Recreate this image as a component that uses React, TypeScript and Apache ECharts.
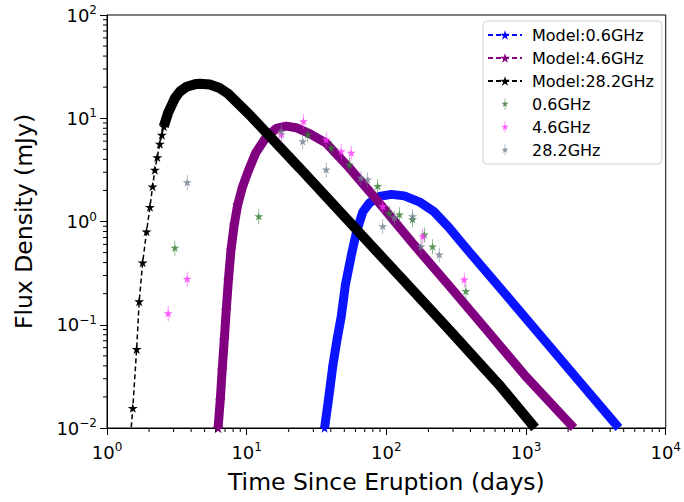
import React, { useEffect, useRef } from "react";
import * as echarts from "echarts";

// ---------- data ----------
// Model 0.6 GHz (blue)
const blueT = [36.1, 38.5, 41.3, 44.3, 47.5, 50.9, 56.2, 61.1, 67.8, 75.6, 89.1, 108.6, 134.5, 172, 220, 282, 332, 392, 642, 1239, 2390, 4620];
const blueF = [0.01, 0.0187, 0.0394, 0.0714, 0.12, 0.243, 0.475, 0.794, 1.24, 1.51, 1.75, 1.83, 1.77, 1.55, 1.24, 0.867, 0.664, 0.508, 0.233, 0.0817, 0.0286, 0.01];

// Model 4.6 GHz (purple)
const purpleT = [6.24, 6.47, 6.68, 6.91, 7.14, 7.4, 7.72, 8.14, 8.62, 9.29, 10.2, 11.6, 13.8, 16.3, 19.2, 22.6, 28.2, 37.1, 54.4, 89.1, 154, 282, 544, 995, 2200];
const purpleF = [0.01, 0.0187, 0.0366, 0.0714, 0.139, 0.272, 0.531, 0.927, 1.45, 2.12, 3.02, 4.61, 6.59, 7.96, 8.4, 8.1, 7.1, 5.73, 3.3, 1.51, 0.617, 0.238, 0.0835, 0.0316, 0.01];

// Model 28.2 GHz (black) – sparse rising stars
const blackRiseT = [1.43, 1.53, 1.63, 1.7, 1.8, 1.92, 2.03, 2.12, 2.2, 2.29, 2.39, 2.47, 2.55, 2.64, 2.74];
const blackRiseF = [0.005, 0.0156, 0.058, 0.168, 0.4, 0.8, 1.38, 2.18, 3.16, 4.19, 5.64, 6.89, 8.3, 9.8, 11.3];
// dense part
const blackT = [2.55, 2.74, 3.06, 3.32, 3.71, 4.37, 4.62, 5.44, 6.41, 7.35, 10.5, 23.9, 54.4, 124, 282, 642, 1160];
const blackF = [8.3, 11.3, 15.6, 18.1, 20.2, 21.5, 21.6, 21.2, 19.6, 17.3, 10.8, 3.3, 0.99, 0.297, 0.0893, 0.0262, 0.01];

// Observations
const obs06T = [3.06, 12.2, 27.4, 40.3, 54.4, 86.7, 105, 124, 154, 187, 214, 371];
const obs06F = [0.55, 1.11, 6.89, 5.13, 3.53, 2.18, 1.2, 1.16, 1.04, 0.741, 0.568, 0.21];
const obs46T = [2.74, 3.75, 17.7, 25.5, 37.1, 47.5, 56, 94.2, 182, 361];
const obs46F = [0.128, 0.276, 6.9, 9.27, 6.17, 4.75, 4.58, 1.39, 0.714, 0.272];
const obs282T = [3.75, 17.7, 25.2, 37.1, 65.9, 73.5, 94.2, 114, 154, 177, 239];
const obs282F = [2.38, 7.41, 5.93, 3.16, 2.62, 2.53, 0.893, 1.08, 1.11, 0.571, 0.475];

// axes
const X_MIN = 1;
const X_MAX = 10000;
const Y_MIN = 0.01;
const Y_MAX = 100;
const MINOR_MULT = [2, 3, 4, 5, 6, 7, 8, 9];
const X_DECADES = [1, 10, 100, 1000];
const Y_DECADES = [0.01, 0.1, 1, 10];

const seriesNames = ["Model:0.6GHz", "Model:4.6GHz", "Model:28.2GHz", "0.6GHz", "4.6GHz", "28.2GHz"];

const zip = (a: number[], b: number[]) => a.map((v, i) => [v, b[i]]);

function starPath(withBar: boolean): string {
  const pts: string[] = [];
  for (let k = 0; k < 10; k++) {
    const a = ((-90 + 36 * k) * Math.PI) / 180;
    const r = k % 2 === 0 ? 1 : 0.382;
    pts.push((r * Math.cos(a)).toFixed(3) + " " + (r * Math.sin(a)).toFixed(3));
  }
  let d = "M" + pts.join(" L") + " Z";
  if (withBar) d += " M-0.07 -1.6 L0.07 -1.6 L0.07 1.6 L-0.07 1.6 Z";
  return "path://" + d;
}
const STAR = starPath(false);
const STAR_BAR = starPath(true);

const FONT = "DejaVu Sans";

const supFormatter = (v: number) => {
  const e = Math.round(Math.log10(v));
  const s = e < 0 ? "\u2212" + -e : String(e);
  return "{b|10}{s|" + s + "}";
};

export default function App() {
  const ref = useRef<HTMLDivElement>(null);
  useEffect(() => {
    document.body.style.margin = "0";
    if (!ref.current) return;
    const chart = echarts.init(ref.current, undefined, { renderer: "svg" });

    const band = (data: number[][], color: string, z: number, w: number) => ({
      type: "line",
      data,
      symbol: "none",
      showSymbol: false,
      lineStyle: { color, width: w, type: "solid", cap: "butt" },
      itemStyle: { color },
      z,
      silent: true,
    });
    const model = (name: string, data: number[][], color: string, z: number, size: number) => ({
      type: "line",
      name,
      data,
      symbol: STAR,
      symbolSize: [size, size * 0.95],
      showSymbol: true,
      lineStyle: { color, width: 1.5, type: [5, 3] },
      itemStyle: { color },
      z,
      silent: true,
    });
    const obs = (name: string, data: number[][], color: string) => ({
      type: "scatter",
      name,
      data,
      symbol: STAR_BAR,
      symbolSize: [9, 15],
      itemStyle: { color, opacity: 0.8 },
      z: 10,
      silent: true,
    });

    const xMinor = X_DECADES.flatMap((d) => MINOR_MULT.map((m) => [d * m, Y_MIN]));
    const yMinor = Y_DECADES.flatMap((d) => MINOR_MULT.map((m) => [X_MIN, d * m]));

    const tickSeries = (data: number[][], horizontal: boolean) => ({
      type: "custom",
      data,
      silent: true,
      clip: false,
      z: 20,
      renderItem: (_p: any, api: any) => {
        const p = api.coord([api.value(0), api.value(1)]);
        return {
          type: "line",
          shape: horizontal
            ? { x1: p[0], y1: p[1], x2: p[0], y2: p[1] + 4 }
            : { x1: p[0], y1: p[1], x2: p[0] - 4, y2: p[1] },
          style: { stroke: "#000", lineWidth: 1 },
        };
      },
    });

    const labelRich = {
      b: { fontSize: 18, fontFamily: FONT, color: "#000", lineHeight: 22 },
      s: { fontSize: 12, fontFamily: FONT, color: "#000", verticalAlign: "top", lineHeight: 14 },
    };

    chart.setOption({
      animation: false,
      backgroundColor: "#fff",
      grid: { left: 107, top: 15, right: 17, bottom: 74, show: true, borderColor: "#000", borderWidth: 1 },
      legend: {
        data: seriesNames,
        orient: "vertical",
        left: 483,
        top: 21,
        itemWidth: 34,
        itemHeight: 12,
        itemGap: 7,
        padding: [6, 8, 6, 4],
        borderColor: "#d0d0d0",
        borderWidth: 1,
        borderRadius: 4,
        backgroundColor: "rgba(255,255,255,0.85)",
        textStyle: { fontSize: 16, fontFamily: FONT, color: "#000", padding: [0, 0, 0, 5] },
      },
      xAxis: {
        type: "log",
        logBase: 10,
        min: X_MIN,
        max: X_MAX,
        name: "Time Since Eruption (days)",
        nameLocation: "middle",
        nameGap: 42,
        nameTextStyle: { fontSize: 23.5, fontFamily: FONT, color: "#000" },
        axisLine: { lineStyle: { color: "#000", width: 1 } },
        axisTick: { length: 7, lineStyle: { color: "#000" } },
        splitLine: { show: false },
        axisLabel: { formatter: supFormatter, rich: labelRich, margin: 13 },
      },
      yAxis: {
        type: "log",
        logBase: 10,
        min: Y_MIN,
        max: Y_MAX,
        name: "Flux Density (mJy)",
        nameLocation: "middle",
        nameGap: 71,
        nameTextStyle: { fontSize: 23.5, fontFamily: FONT, color: "#000" },
        axisLine: { show: true, lineStyle: { color: "#000", width: 1 } },
        axisTick: { show: true, length: 7, lineStyle: { color: "#000" } },
        splitLine: { show: false },
        axisLabel: { formatter: supFormatter, rich: labelRich, margin: 10 },
      },
      series: [
        model("Model:0.6GHz", zip(blueT, blueF).slice(0, 3), "#0000ff", 2, 10),
        band(zip(blueT, blueF), "#0a14ff", 3, 9),
        model("Model:4.6GHz", zip(purpleT, purpleF).slice(0, 9), "#800080", 4, 11),
        band(zip(purpleT, purpleF), "#800080", 5, 9),
        model("Model:28.2GHz", zip(blackRiseT, blackRiseF), "#000000", 6, 10),
        band(zip(blackT, blackF), "#000000", 7, 10),
        obs("0.6GHz", zip(obs06T, obs06F), "#2e7d2e"),
        obs("4.6GHz", zip(obs46T, obs46F), "#ff33ff"),
        obs("28.2GHz", zip(obs282T, obs282F), "#708090"),
        tickSeries(xMinor, true),
        tickSeries(yMinor, false),
      ],
    });
    return () => chart.dispose();
  }, []);
  return <div ref={ref} style={{ width: 684, height: 502 }} />;
}
